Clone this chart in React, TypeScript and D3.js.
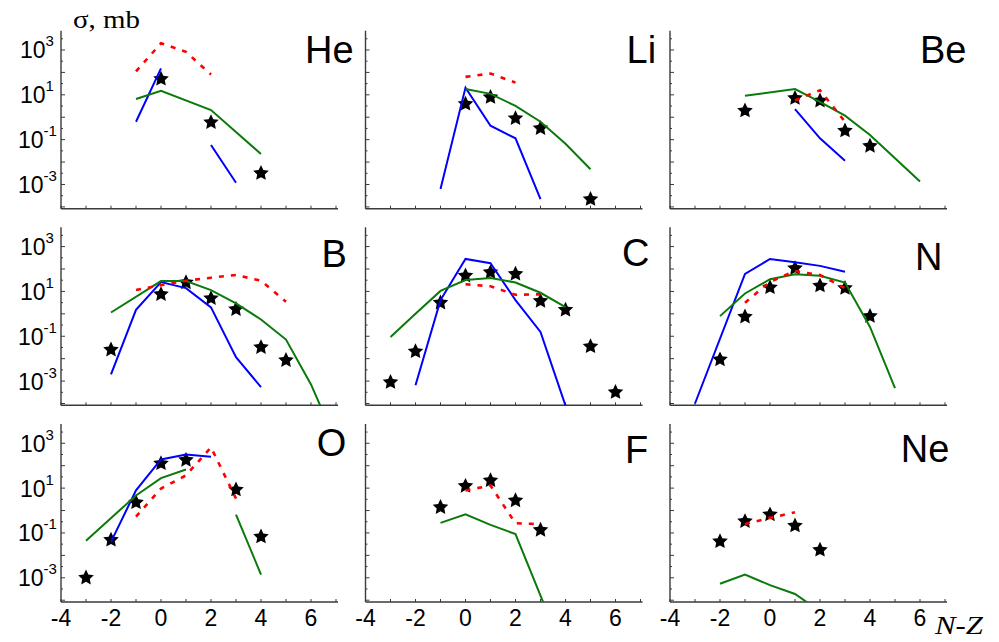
import React from "react";
import * as d3 from "d3";

type P = [number, number | null];

// ---- data: [N-Z, sigma (mb)] ----
const heRed: P[] = [[-1, 110], [0, 2000], [1, 830], [2, 80]];
const heBlue: P[] = [[-1, 0.63], [0, 150], [1, null], [2, 0.058], [3, 0.0012]];
const heGreen: P[] = [[-1, 6.5], [0, 15], [2, 2.1], [4, 0.023]];
const heStars: P[] = [[0, 51], [2, 0.59], [4, 0.0032]];

const liRed: P[] = [[0, 63], [1, 89], [2, 35]];
const liBlue: P[] = [[-1, 0.00063], [0, 21], [1, 0.42], [2, 0.115], [3, 0.00022]];
const liGreen: P[] = [[0, 18], [1, 11], [2, 3.2], [3, 0.63], [4, 0.065], [5, 0.0048]];
const liStars: P[] = [[0, 3.9], [1, 7.8], [2, 0.89], [3, 0.32], [5, 0.00022]];

const beRed: P[] = [[1, 5.6], [2, 16], [3, 0.63]];
const beBlue: P[] = [[1, 2.3], [2, 0.115], [3, 0.0115]];
const beGreen: P[] = [[-1, 9.1], [1, 18], [2, 4.9], [3, 1.17], [4, 0.16], [5, 0.0148], [6, 0.00135]];
const beStars: P[] = [[-1, 1.95], [1, 7.1], [2, 5.4], [3, 0.25], [4, 0.052]];

const bRed: P[] = [[-1, 11.5], [0, 19], [1, 30], [2, 41], [3, 54], [4, 30], [5, 3.5]];
const bBlue: P[] = [[-2, 0.002], [-1, 1.5], [0, 26], [1, 14], [2, 1.95], [3, 0.0117], [4, 0.00054]];
const bGreen: P[] = [[-2, 1.15], [0, 29], [1, 29], [2, 11.5], [3, 2.9], [4, 0.56], [5, 0.071], [6, 0.00071], [7, 0.000002]];
const bStars: P[] = [[-2, 0.025], [0, 7.4], [1, 25], [2, 4.9], [3, 1.6], [4, 0.032], [5, 0.0085]];

const cRed: P[] = [[0, 21], [1, 17], [2, 7.1], [3, 7.4]];
const cBlue: P[] = [[-2, 0.00065], [-1, 4.1], [0, 280], [1, 180], [2, 4.1], [3, 0.155], [4, 0.00008]];
const cGreen: P[] = [[-3, 0.093], [-2, 1.0], [-1, 10.5], [0, 32], [1, 40], [2, 25], [3, 8.7], [4, 2.0]];
const cStars: P[] = [[-3, 0.00089], [-2, 0.021], [-1, 3.1], [0, 50], [1, 71], [2, 60], [3, 3.7], [4, 1.5], [5, 0.035], [6, 0.00032]];

const nRed: P[] = [[-1, 3.1], [0, 27], [1, 81], [2, 54], [3, 14]];
const nBlue: P[] = [[-3, 0.0001], [-1, 60], [0, 280], [1, 200], [2, 138], [3, 76]];
const nGreen: P[] = [[-2, 0.79], [-1, 8.1], [0, 35], [1, 58], [2, 50], [3, 25], [4, 0.26], [5, 0.00049]];
const nStars: P[] = [[-2, 0.0091], [-1, 0.74], [0, 15], [1, 107], [2, 18], [3, 14], [4, 0.79]];

const oRed: P[] = [[-1, 0.54], [0, 9.5], [1, 37], [2, 660], [3, 3.4]];
const oBlue: P[] = [[-2, 0.04], [-1, 7.9], [0, 190], [1, 316], [2, 250]];
const oGreen: P[] = [[-3, 0.045], [-1, 4.7], [0, 28], [1, 68], [2, null], [3, 0.66], [4, 0.0014]];
const oStars: P[] = [[-3, 0.001], [-2, 0.049], [-1, 2.3], [0, 126], [1, 178], [3, 8.5], [4, 0.068]];

const fRed: P[] = [[0, 7.9], [1, 13], [2, 0.27], [3, 0.25]];
const fBlue: P[] = [];
const fGreen: P[] = [[-1, 0.28], [0, 0.68], [1, 0.23], [2, 0.089], [3, 0.00016], [4, 0.0000003]];
const fStars: P[] = [[-1, 1.4], [0, 12.3], [1, 22], [2, 2.8], [3, 0.135]];

const neRed: P[] = [[-1, 0.25], [0, 0.47], [1, 0.83]];
const neBlue: P[] = [];
const neGreen: P[] = [[-2, 0.00054], [-1, 0.0014], [0, 0.00047], [1, 0.00019], [2, 0.000032]];
const neStars: P[] = [[-2, 0.042], [-1, 0.33], [0, 0.66], [1, 0.21], [2, 0.0174]];

const elements = ["He", "Li", "Be", "B", "C", "N", "O", "F", "Ne"];
const redSeries = [heRed, liRed, beRed, bRed, cRed, nRed, oRed, fRed, neRed];
const blueSeries = [heBlue, liBlue, beBlue, bBlue, cBlue, nBlue, oBlue, fBlue, neBlue];
const greenSeries = [heGreen, liGreen, beGreen, bGreen, cGreen, nGreen, oGreen, fGreen, neGreen];
const starSeries = [heStars, liStars, beStars, bStars, cStars, nStars, oStars, fStars, neStars];

const xTicks = [-4, -2, 0, 2, 4, 6];
const yTickExps = [3, 1, -1, -3];

// ---- layout ----
const panelLefts = [61, 365.5, 670];
const panelTops = [30.7, 227.3, 424];
const W = 277;
const H = 178;
// element label placement (x start, baseline) relative to panel origin
const labelPos: [number, number][] = [
  [244, 32.6], [261, 31.8], [250, 32.6],
  [260.5, 39.4], [256.5, 39.2], [245, 42.7],
  [255.7, 32.4], [259.5, 38.7], [230.7, 37.7],
];

const x = d3.scaleLinear().domain([-4, 7.08]).range([0, W]);
const y = d3.scaleLog().domain([Math.pow(10, -4.08), Math.pow(10, 3.86)]).range([H, 0]);

const line = d3
  .line<P>()
  .defined((d) => d[1] != null)
  .x((d) => x(d[0]))
  .y((d) => y(d[1] as number));

// five-pointed star marker (fat inner radius)
const starPts = d3.range(10).map((k) => [(k * Math.PI) / 5, k % 2 === 0 ? 8.2 : 4] as [number, number]);
const star = d3
  .lineRadial<[number, number]>()
  .angle((d) => d[0])
  .radius((d) => d[1])
  .curve(d3.curveLinearClosed)(starPts) as string;

const AXIS = "#3a3a3a";
const SANS = "'Liberation Sans', Arial, sans-serif";
const SERIF = "'Liberation Serif', 'Times New Roman', serif";

function Panel({ i }: { i: number }) {
  const col = i % 3;
  const row = Math.floor(i / 3);
  const left = panelLefts[col];
  const top = panelTops[row];
  const decades = d3.range(-4, 4);
  const minor = d3.range(-4, 4).map((e) => e + 0.5).filter((e) => e > -4.08 && e < 3.86);
  const unitTicks = d3.range(-4, 8).filter((v) => v <= 7.08);
  const clipId = `clip-${i}`;
  return (
    <g transform={`translate(${left},${top})`}>
      <defs>
        <clipPath id={clipId}>
          <rect x={0} y={-10} width={W + 10} height={H + 10} />
        </clipPath>
      </defs>
      {/* axes */}
      <line x1={0} y1={0} x2={0} y2={H} stroke={AXIS} strokeWidth={1.4} />
      <line x1={0} y1={H} x2={W} y2={H} stroke={AXIS} strokeWidth={1.4} />
      {decades.map((e) => (
        <line key={`d${e}`} x1={0} x2={4} y1={y(Math.pow(10, e))} y2={y(Math.pow(10, e))} stroke={AXIS} strokeWidth={1} />
      ))}
      {minor.map((e) => (
        <line key={`m${e}`} x1={0} x2={2} y1={y(Math.pow(10, e))} y2={y(Math.pow(10, e))} stroke={AXIS} strokeWidth={1} />
      ))}
      {unitTicks.map((v) => (
        <line key={`x${v}`} x1={x(v)} x2={x(v)} y1={H} y2={H - 3} stroke={AXIS} strokeWidth={1} />
      ))}
      {col === 0 &&
        yTickExps.map((e) => (
          <text key={`yl${e}`} x={e < 0 ? -43 : -41} y={y(Math.pow(10, e)) + 8.5} textAnchor="start" fontFamily={SANS} fontSize={23} fill="#000">
            10<tspan fontSize={15} dy={-12}>{e}</tspan>
          </text>
        ))}
      {row === 2 &&
        xTicks.map((v) => (
          <text key={`xl${v}`} x={x(v)} y={H + 24} textAnchor="middle" fontFamily={SANS} fontSize={23} fill="#000">
            {v}
          </text>
        ))}
      <text x={labelPos[i][0]} y={labelPos[i][1]} fontFamily={SANS} fontSize={38} fill="#000">
        {elements[i]}
      </text>
      {starSeries[i].map((d, k) => (
        <path key={`s${k}`} d={star} transform={`translate(${x(d[0])},${y(d[1] as number)})`} fill="#000" />
      ))}
      <g clipPath={`url(#${clipId})`}>
        {blueSeries[i].length > 0 && (
          <path d={line(blueSeries[i]) as string} fill="none" stroke="#0000ff" strokeWidth={2} />
        )}
        <path d={line(greenSeries[i]) as string} fill="none" stroke="#0a7a0a" strokeWidth={2} />
        <path d={line(redSeries[i]) as string} fill="none" stroke="#ff0000" strokeWidth={2.6} strokeDasharray="5 7" />
      </g>
    </g>
  );
}

export default function App() {
  return (
    <svg width={999} height={642} style={{ position: "absolute", left: 0, top: 0, background: "#fff" }}>
      <rect width={999} height={642} fill="#fff" />
      {elements.map((_, i) => (
        <Panel key={i} i={i} />
      ))}
      <text x={73} y={28} fontFamily={SERIF} fontSize={25} textLength={67} lengthAdjust="spacingAndGlyphs" fill="#000">
        σ, mb
      </text>
      <text x={935} y={634} fontFamily={SERIF} fontStyle="italic" fontSize={26} textLength={48} lengthAdjust="spacingAndGlyphs" fill="#000">
        N-Z
      </text>
    </svg>
  );
}
